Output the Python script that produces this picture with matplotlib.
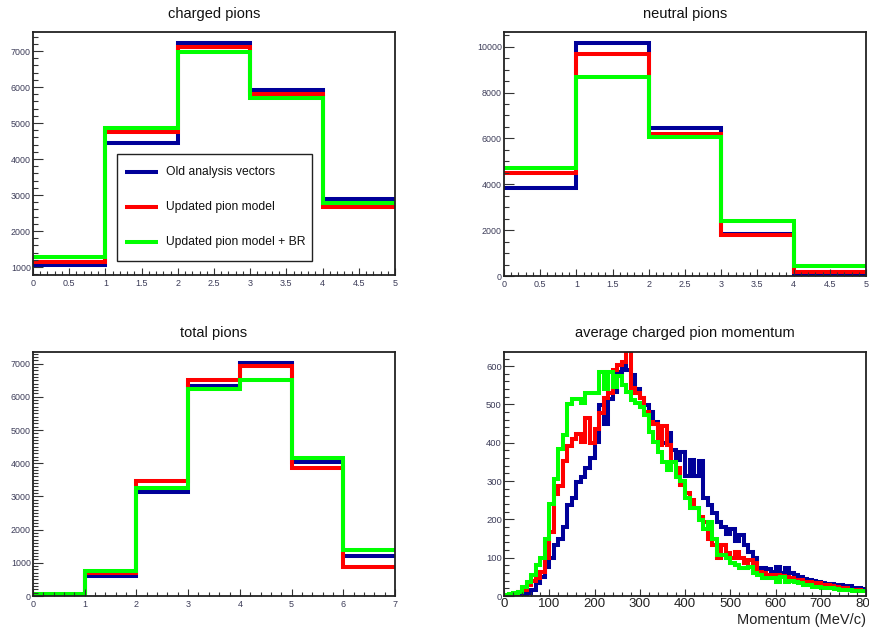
import numpy as np
import matplotlib
matplotlib.use("Agg")
import matplotlib.pyplot as plt
from matplotlib.ticker import MultipleLocator, AutoMinorLocator, FuncFormatter
from matplotlib.patches import Rectangle

plt.rcParams['font.family'] = ['Liberation Sans', 'DejaVu Sans']

# ---------------------------------------------------------------- data
series_labels = ["Old analysis vectors", "Updated pion model", "Updated pion model + BR"]
series_colors = ["#000099", "#ff0000", "#00ff00"]

# pion multiplicity histograms (unit-width bins starting at 0)
charged_old = [1050, 4440, 7230, 5930, 2900]
charged_upd = [1150, 4760, 7120, 5820, 2660]
charged_br = [1290, 4850, 6980, 5690, 2770]

neutral_old = [3820, 10150, 6440, 1820, 60]
neutral_upd = [4480, 9680, 6180, 1790, 190]
neutral_br = [4700, 8690, 6050, 2400, 450]

total_old = [0, 600, 3140, 6320, 7010, 4040, 1200]
total_upd = [0, 680, 3470, 6500, 6920, 3860, 880]
total_br = [60, 750, 3260, 6230, 6520, 4160, 1380]

# average charged pion momentum, 10 MeV/c bins from 0 to 800 MeV/c
momentum_bin_width = 10
momentum_old = [
    1, 2, 3, 4, 6, 9, 16, 33, 50, 77,
    98, 133, 150, 180, 237, 255, 298, 311, 333, 359,
    402, 498, 450, 515, 532, 585, 605, 590, 577, 540,
    516, 498, 481, 455, 429, 400, 425, 380, 355, 375,
    313, 355, 313, 352, 255, 237, 216, 194, 181, 163,
    175, 143, 160, 133, 116, 98, 72, 72, 70, 62,
    77, 60, 74, 59, 55, 50, 45, 42, 38, 37,
    33, 31, 32, 28, 30, 26, 25, 22, 20, 19,
]
momentum_upd = [
    2, 3, 5, 10, 16, 29, 40, 46, 63, 98,
    167, 267, 288, 353, 392, 409, 422, 402, 465, 400,
    435, 479, 518, 531, 591, 604, 610, 660, 542, 530,
    516, 481, 455, 450, 393, 445, 393, 350, 333, 290,
    268, 250, 229, 207, 194, 150, 133, 100, 133, 111,
    98, 116, 100, 85, 94, 85, 63, 60, 55, 55,
    55, 52, 50, 48, 42, 42, 37, 37, 33, 33,
    29, 29, 27, 24, 20, 20, 16, 16, 15, 14,
]
momentum_br = [
    3, 5, 8, 11, 24, 37, 55, 80, 98, 150,
    240, 306, 385, 420, 500, 513, 513, 505, 531, 531,
    531, 585, 540, 585, 545, 575, 550, 533, 511, 503,
    494, 472, 429, 402, 376, 350, 330, 350, 310, 300,
    255, 229, 229, 198, 176, 194, 150, 107, 107, 98,
    85, 81, 72, 72, 77, 60, 55, 46, 46, 46,
    37, 50, 37, 40, 37, 33, 29, 29, 24, 24,
    22, 20, 20, 18, 16, 16, 15, 14, 13, 12,
]

# ---------------------------------------------------------------- style
W, H = 869, 627
LW = 2.9
FRAME = "#222222"
LABEL = "#3c3c58"

fig = plt.figure(figsize=(W / 100, H / 100), dpi=100)
fig.patch.set_facecolor("white")


def make_axes(left, top, right, bottom):
    return fig.add_axes([left / W, 1 - bottom / H, (right - left) / W, (bottom - top) / H])


def style_axes(ax, xlim, ylim, xmajor, xminor, ymajor, yminor,
               xsize=6.5, ysize=6.4):
    ax.set_xlim(*xlim)
    ax.set_ylim(*ylim)
    ax.xaxis.set_major_locator(MultipleLocator(xmajor))
    ax.xaxis.set_minor_locator(AutoMinorLocator(xminor))
    ax.yaxis.set_major_locator(MultipleLocator(ymajor))
    ax.yaxis.set_minor_locator(AutoMinorLocator(yminor))
    ax.xaxis.set_major_formatter(FuncFormatter(lambda v, p: f"{v:g}"))
    ax.yaxis.set_major_formatter(FuncFormatter(lambda v, p: f"{v:g}"))
    for s in ax.spines.values():
        s.set_linewidth(1.3)
        s.set_color(FRAME)
    ax.tick_params(which="both", direction="in", top=False, right=False,
                   color="#333333", width=0.8, labelcolor=LABEL)
    ax.tick_params(axis="y", which="major", length=7.5, pad=1.5, labelsize=ysize)
    ax.tick_params(axis="y", which="minor", length=3.8)
    ax.tick_params(axis="x", which="major", length=5.0, pad=3.0, labelsize=xsize)
    ax.tick_params(axis="x", which="minor", length=2.6)


def draw_hists(ax, edges, series):
    for vals, col in zip(series, series_colors):
        ax.stairs(vals, edges, baseline=None, color=col, linewidth=LW,
                  joinstyle="miter")


def title(ax, text, dy):
    ax.text(0.5, 1 + dy, text, transform=ax.transAxes, ha="center",
            va="center", fontsize=10.5, color="#111111")


# charged pions
ax1 = make_axes(33, 32, 395, 275)
draw_hists(ax1, np.arange(len(charged_old) + 1), [charged_old, charged_upd, charged_br])
style_axes(ax1, (0, 5), (780, 7530), 0.5, 5, 1000, 5)
title(ax1, "charged pions", 18 / 243)

# legend box
bx0, by0, bw, bh = 0.232, 0.0576, 0.5387, 0.4403
ax1.add_patch(Rectangle((bx0, by0), bw, bh, transform=ax1.transAxes,
                        facecolor="white", edgecolor="#222222", linewidth=1.0,
                        zorder=5))
for row_y, lab, col in zip([0.424, 0.280, 0.136], series_labels, series_colors):
    ax1.plot([0.254, 0.345], [row_y, row_y], transform=ax1.transAxes,
             color=col, linewidth=LW, solid_capstyle="butt", zorder=6,
             clip_on=False)
    ax1.text(0.367, row_y, lab, transform=ax1.transAxes, ha="left",
             va="center", fontsize=8.7, color="#111111", zorder=6)

# neutral pions
ax2 = make_axes(504, 32, 866, 276)
draw_hists(ax2, np.arange(len(neutral_old) + 1), [neutral_old, neutral_upd, neutral_br])
style_axes(ax2, (0, 5), (0, 10640), 0.5, 5, 2000, 4)
title(ax2, "neutral pions", 18 / 244)

# total pions
ax3 = make_axes(33, 352, 395, 596)
draw_hists(ax3, np.arange(len(total_old) + 1), [total_old, total_upd, total_br])
style_axes(ax3, (0, 7), (0, 7350), 1, 5, 1000, 10)
title(ax3, "total pions", 19 / 244)

# average charged pion momentum
ax4 = make_axes(504, 352, 866, 596)
medges = np.arange(len(momentum_old) + 1) * momentum_bin_width
draw_hists(ax4, medges, [momentum_old, momentum_upd, momentum_br])
style_axes(ax4, (0, 800), (0, 637), 100, 5, 100, 5, xsize=9.5, ysize=6.8)
ax4.tick_params(axis="x", which="major", pad=1.5, labelcolor="#222222")
title(ax4, "average charged pion momentum", 19 / 244)
ax4.set_xlabel("Momentum (MeV/c)", fontsize=10.5, color="#222222", loc="right")
ax4.xaxis.set_label_coords(1.0, -0.098)
ax4.xaxis.label.set_va("center")

fig.savefig("out.png", dpi=100, facecolor="white")
